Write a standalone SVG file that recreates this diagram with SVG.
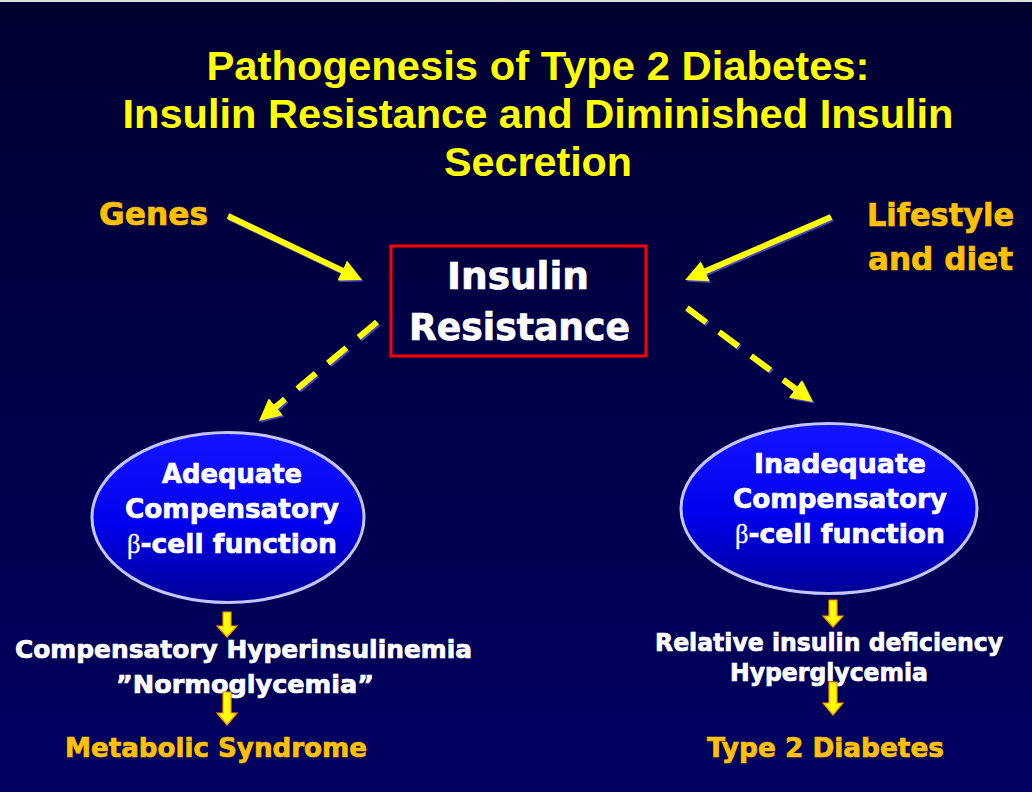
<svg xmlns="http://www.w3.org/2000/svg" width="1032" height="792" viewBox="0 0 1032 792">
<defs>
<linearGradient id="bg" x1="0" y1="0" x2="0" y2="1">
<stop offset="0" stop-color="#000030"/>
<stop offset="1" stop-color="#000062"/>
</linearGradient>
<linearGradient id="ell" x1="0" y1="0" x2="0" y2="1">
<stop offset="0" stop-color="#1414ff"/>
<stop offset="0.55" stop-color="#0000ea"/>
<stop offset="1" stop-color="#000094"/>
</linearGradient>
<marker id="hY" markerUnits="userSpaceOnUse" markerWidth="24" markerHeight="22" refX="2" refY="11" orient="auto">
<path d="M0,0 L22,11 L0,22 z" fill="#ffff00"/>
</marker>
<marker id="hS" markerUnits="userSpaceOnUse" markerWidth="24" markerHeight="22" refX="2" refY="11" orient="auto">
<path d="M0,0 L22,11 L0,22 z" fill="#4444cc"/>
</marker>
<style>
.title{font-family:"Liberation Sans",Arial,sans-serif;font-weight:bold;font-size:41px;fill:#ffff00;text-anchor:middle}
.lbl{font-family:"DejaVu Sans",Verdana,sans-serif;font-weight:bold;text-anchor:middle;stroke-width:0.7px}
.org{fill:#ffc000;stroke:#ffc000}
.wht{fill:#ffffff;stroke:#ffffff}
.beta{font-family:"Liberation Serif","Times New Roman",serif;font-weight:normal;stroke-width:0.3px}
.sh{stroke:#4444cc;stroke-width:6;fill:none}
.ar{stroke:#ffff00;stroke-width:6;fill:none}
.dash{stroke-dasharray:24 16}
.blk{fill:#ffff00;stroke:#ff8c00;stroke-width:1.2}
.ellipse{fill:url(#ell);stroke:#c4c4ff;stroke-width:3}
</style>
</defs>
<rect x="0" y="0" width="1032" height="792" fill="url(#bg)"/>
<rect x="0" y="0" width="1032" height="2" fill="#e0e0e0"/>

<g id="title">
<text class="title" x="538" y="80" textLength="663" lengthAdjust="spacingAndGlyphs">Pathogenesis of Type 2 Diabetes:</text>
<text class="title" x="538" y="128" textLength="831" lengthAdjust="spacingAndGlyphs">Insulin Resistance and Diminished Insulin</text>
<text class="title" x="538" y="176" textLength="188" lengthAdjust="spacingAndGlyphs">Secretion</text>
</g>

<g id="genes">
<text class="lbl org" x="153.5" y="225" font-size="32" textLength="109" lengthAdjust="spacingAndGlyphs">Genes</text>
</g>

<g id="lifestyle">
<text class="lbl org" x="940.5" y="226" font-size="32" textLength="147" lengthAdjust="spacingAndGlyphs">Lifestyle</text>
<text class="lbl org" x="940.5" y="270" font-size="32" textLength="145" lengthAdjust="spacingAndGlyphs">and diet</text>
</g>

<g id="insulin-resistance">
<rect x="391" y="246" width="255" height="110" fill="none" stroke="#ff0000" stroke-width="3"/>
<text class="lbl wht" x="518" y="289" font-size="37" textLength="142" lengthAdjust="spacingAndGlyphs">Insulin</text>
<text class="lbl wht" x="519.5" y="340" font-size="37" textLength="221" lengthAdjust="spacingAndGlyphs">Resistance</text>
</g>

<g id="adequate">
<ellipse class="ellipse" cx="228" cy="517.5" rx="136" ry="85"/>
<text class="lbl wht" x="232" y="483" font-size="27" textLength="140" lengthAdjust="spacingAndGlyphs">Adequate</text>
<text class="lbl wht" x="232" y="518" font-size="27" textLength="214" lengthAdjust="spacingAndGlyphs">Compensatory</text>
<text class="lbl wht" x="232" y="553" font-size="27" textLength="210" lengthAdjust="spacingAndGlyphs"><tspan class="beta">β</tspan>-cell function</text>
</g>

<g id="inadequate">
<ellipse class="ellipse" cx="829" cy="508.5" rx="148" ry="85"/>
<text class="lbl wht" x="840" y="473" font-size="27" textLength="172" lengthAdjust="spacingAndGlyphs">Inadequate</text>
<text class="lbl wht" x="840" y="508" font-size="27" textLength="214" lengthAdjust="spacingAndGlyphs">Compensatory</text>
<text class="lbl wht" x="840" y="543" font-size="27" textLength="210" lengthAdjust="spacingAndGlyphs"><tspan class="beta">β</tspan>-cell function</text>
</g>

<g id="hyperinsulinemia">
<text class="lbl wht" x="243.5" y="658" font-size="24" textLength="457" lengthAdjust="spacingAndGlyphs">Compensatory Hyperinsulinemia</text>
<text class="lbl wht" x="245" y="693" font-size="24" textLength="258" lengthAdjust="spacingAndGlyphs">”Normoglycemia”</text>
</g>

<g id="metabolic-syndrome">
<text class="lbl org" x="216" y="757" font-size="26" textLength="302" lengthAdjust="spacingAndGlyphs">Metabolic Syndrome</text>
</g>

<g id="deficiency">
<text class="lbl wht" x="829" y="651" font-size="24" textLength="348" lengthAdjust="spacingAndGlyphs">Relative insulin deficiency</text>
<text class="lbl wht" x="829" y="681" font-size="24" textLength="198" lengthAdjust="spacingAndGlyphs">Hyperglycemia</text>
</g>

<g id="type2-diabetes">
<text class="lbl org" x="825.5" y="757" font-size="26" textLength="237" lengthAdjust="spacingAndGlyphs">Type 2 Diabetes</text>
</g>

<g id="connectors">
<g transform="translate(1.5,1.5)">
<line class="sh" x1="228" y1="216" x2="344" y2="271.4" marker-end="url(#hS)"/>
<line class="sh" x1="831" y1="217" x2="703.4" y2="272.1" marker-end="url(#hS)"/>
<line class="sh dash" x1="377" y1="322" x2="274.3" y2="408.1" marker-end="url(#hS)"/>
<line class="sh dash" x1="687" y1="308" x2="797" y2="390" marker-end="url(#hS)"/>
</g>
<line class="ar" x1="228" y1="216" x2="344" y2="271.4" marker-end="url(#hY)"/>
<line class="ar" x1="831" y1="217" x2="703.4" y2="272.1" marker-end="url(#hY)"/>
<line class="ar dash" x1="377" y1="322" x2="274.3" y2="408.1" marker-end="url(#hY)"/>
<line class="ar dash" x1="687" y1="308" x2="797" y2="390" marker-end="url(#hY)"/>
<polygon class="blk" points="223,612 231,612 231,626 237,626 227,637 217,626 223,626"/>
<polygon class="blk" points="223,692 231,692 231,713 237,713 227,725 217,713 223,713"/>
<polygon class="blk" points="829,600 837,600 837,616 843,616 833,627 823,616 829,616"/>
<polygon class="blk" points="829,682 837,682 837,703 843,703 833,715 823,703 829,703"/>
</g>
</svg>
